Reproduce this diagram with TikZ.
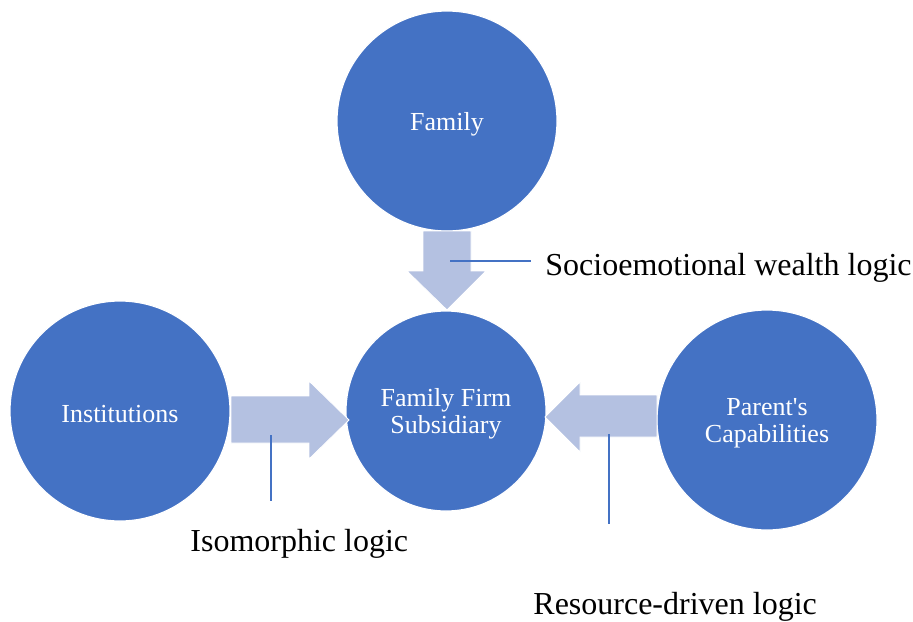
\documentclass[tikz,border=0pt]{standalone}
\usepackage{fontspec}
\setmainfont{Liberation Serif}
\definecolor{circ}{HTML}{4472C4}
\definecolor{arr}{HTML}{B4C1E1}
\tikzset{
  bigcirc/.style={circle, fill=circ, draw=white, line width=0.6pt, inner sep=0pt, minimum size=110pt},
  midcirc/.style={bigcirc, minimum size=100pt},
  ctext/.style={text=white, align=center, inner sep=0pt, yshift=-1.4pt, font=\fontsize{13}{13.5}\selectfont},
  blockarr/.style={fill=arr, draw=white, line width=0.4pt},
  leader/.style={draw=circ, line width=0.7pt},
  lbl/.style={anchor=west, inner sep=0pt, font=\fontsize{16}{19}\selectfont}
}
\begin{document}
\begin{tikzpicture}[x=0.5pt,y=-0.5pt]
\useasboundingbox (0,0) rectangle (913,621);
% circles
\node[bigcirc] (fam) at (447,121) {};
\node[bigcirc] (inst) at (120,411) {};
\node[bigcirc] (par) at (767,420) {};
\node[midcirc] (ffs) at (446,411) {};
\node[ctext] (famt) at (fam.center) {Family};
\node[ctext] (instt) at (inst.center) {Institutions};
\node[ctext] (part) at (par.center) {Parent\textquotesingle s\\Capabilities};
\node[ctext] (ffst) at (ffs.center) {Family Firm\\Subsidiary};
% block arrows
\path[blockarr] (423,231) -- (471,231) -- (471,271) -- (486,271) -- (447,310) -- (407,271) -- (423,271) -- cycle;
\path[blockarr] (231,396) -- (309,396) -- (309,381) -- (349,420) -- (309,459) -- (309,443) -- (231,443) -- cycle;
\path[blockarr] (657,395) -- (580,395) -- (580,382) -- (545,417) -- (580,452) -- (580,437) -- (657,437) -- cycle;
% labels
\node[lbl] (socl) at (545,268) {Socioemotional wealth logic};
\node[lbl] (isol) at (190,544) {Isomorphic logic};
\node[lbl] (resl) at (533,607) {Resource-driven logic};
% leader lines
\coordinate (s1) at (450,261);
\coordinate (s2) at (531,261);
\coordinate (i1) at (271,435);
\coordinate (i2) at (271,501);
\coordinate (r1) at (609,434);
\coordinate (r2) at (609,524);
\draw[leader] (s1) -- (s2);
\draw[leader] (i1) -- (i2);
\draw[leader] (r1) -- (r2);
\end{tikzpicture}
\end{document}
